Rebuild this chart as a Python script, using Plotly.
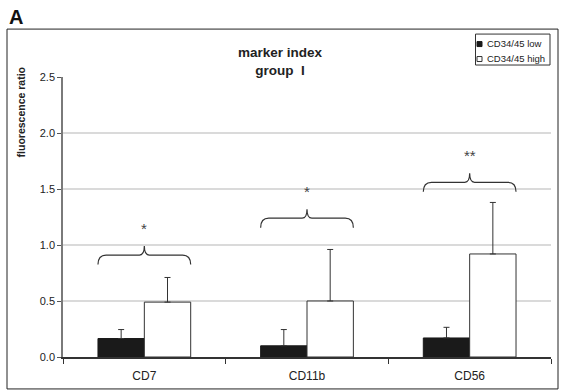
import plotly.graph_objects as go

# ---- data ----
categories = ["CD7", "CD11b", "CD56"]
low_values = [0.165, 0.10, 0.17]
low_errors = [0.08, 0.145, 0.095]
high_values = [0.49, 0.50, 0.92]
high_errors = [0.22, 0.46, 0.46]
series_names = ["CD34/45 low", "CD34/45 high"]
sig_labels = ["*", "*", "**"]
brace_levels = [0.825, 1.155, 1.475]   # bottom of each significance brace
star_levels = [1.15, 1.475, 1.795]
y_ticks = [0.0, 0.5, 1.0, 1.5, 2.0, 2.5]

W, H = 561, 391
L, R, T, B = 63, 10, 77, 33.5
PW, PH = W - L - R, H - T - B


def px(x):
    return (x - L) / PW


def py(y):
    return (H - B - y) / PH


FONT = "Arial, Liberation Sans, sans-serif"
TXT = "#222222"

fig = go.Figure()
fig.add_trace(go.Bar(
    x=categories, y=low_values, name=series_names[0],
    marker=dict(color="#1a1a1a", line=dict(color="#1a1a1a", width=1)),
    error_y=dict(type="data", symmetric=False, array=low_errors,
                 arrayminus=[0] * len(low_errors), color="#333333",
                 thickness=1, width=3),
    showlegend=False,
))
fig.add_trace(go.Bar(
    x=categories, y=high_values, name=series_names[1],
    marker=dict(color="#ffffff", line=dict(color="#333333", width=1)),
    error_y=dict(type="data", symmetric=False, array=high_errors,
                 arrayminus=[0] * len(high_errors), color="#333333",
                 thickness=1, width=3),
    showlegend=False,
))

shapes = []
annotations = []

# significance braces
half = 0.285
dx = 0.05
dx2 = 0.03
rise = 0.085
tip = 0.08
for i, (lvl, lab, sl) in enumerate(zip(brace_levels, sig_labels, star_levels)):
    x0, x1, xc = i - half, i + half, i
    ym, yt = lvl + rise, lvl + rise + tip
    path = (f"M {x0},{lvl} Q {x0},{ym} {x0+dx},{ym} L {xc-dx2},{ym} "
            f"Q {xc},{ym} {xc},{yt} Q {xc},{ym} {xc+dx2},{ym} "
            f"L {x1-dx},{ym} Q {x1},{ym} {x1},{lvl}")
    shapes.append(dict(type="path", path=path, xref="x", yref="y",
                       line=dict(color="#333333", width=1.2)))
    annotations.append(dict(x=i, y=sl, xref="x", yref="y", text=lab,
                            showarrow=False, yanchor="middle",
                            font=dict(family=FONT, size=15, color="#444444")))

# outer frame
shapes.append(dict(type="rect", xref="paper", yref="paper",
                   x0=px(7), x1=px(558), y0=py(389.5), y1=py(29),
                   line=dict(color="#222222", width=1)))

# legend box and symbols
shapes.append(dict(type="rect", xref="paper", yref="paper",
                   x0=px(475.5), x1=px(550), y0=py(65), y1=py(34),
                   line=dict(color="#333333", width=1)))
shapes.append(dict(type="rect", xref="paper", yref="paper",
                   x0=px(477), x1=px(482), y0=py(46.5), y1=py(41.5),
                   fillcolor="#1a1a1a", line=dict(color="#1a1a1a", width=1)))
shapes.append(dict(type="rect", xref="paper", yref="paper",
                   x0=px(477), x1=px(482), y0=py(61.5), y1=py(56.5),
                   fillcolor="#ffffff", line=dict(color="#333333", width=1)))
for name, yy in zip(series_names, [43.5, 58.5]):
    annotations.append(dict(x=px(485), y=py(yy), xref="paper", yref="paper",
                            text=name, showarrow=False, xanchor="left",
                            yanchor="middle",
                            font=dict(family=FONT, size=9.5, color=TXT)))

# title
annotations.append(dict(x=px(280.5), y=py(61), xref="paper", yref="paper",
                        text="<b>marker index<br>group\u00a0\u00a0I</b>",
                        showarrow=False, xanchor="center", yanchor="middle",
                        font=dict(family=FONT, size=13.5, color=TXT)))
# y axis title
annotations.append(dict(x=px(21), y=py(112.5), xref="paper", yref="paper",
                        text="<b>fluorescence ratio</b>", textangle=-90,
                        showarrow=False, xanchor="center", yanchor="middle",
                        font=dict(family=FONT, size=10.5, color=TXT)))
# panel letter
annotations.append(dict(x=px(16), y=py(16.5), xref="paper", yref="paper",
                        text="<b>A</b>", showarrow=False, xanchor="center",
                        yanchor="middle",
                        font=dict(family=FONT, size=20, color="#111111")))

fig.update_layout(
    width=W, height=H,
    margin=dict(l=L, r=R, t=T, b=B, pad=0, autoexpand=False),
    paper_bgcolor="white", plot_bgcolor="white",
    barmode="group", bargap=0.43, bargroupgap=0,
    shapes=shapes, annotations=annotations,
    font=dict(family=FONT, size=11, color=TXT),
)
fig.update_xaxes(
    type="category", tickson="boundaries", ticks="outside", ticklen=5,
    tickcolor="#333333", showline=True, linecolor="#333333", linewidth=1.5,
    showgrid=False, range=[-0.5, 2.5], tickfont=dict(size=12, color=TXT),
    ticklabelstandoff=7, automargin=False,
)
fig.update_yaxes(
    range=[0, 2.5], tickvals=y_ticks, tickformat=".1f", ticks="outside",
    ticklen=4, tickcolor="#555555", showline=True, linecolor="#7a7a7a",
    linewidth=1.5, showgrid=True, gridcolor="#dadada", gridwidth=1.5,
    zeroline=False, tickfont=dict(size=11, color=TXT), automargin=False,
)

fig.write_html("out.html")
